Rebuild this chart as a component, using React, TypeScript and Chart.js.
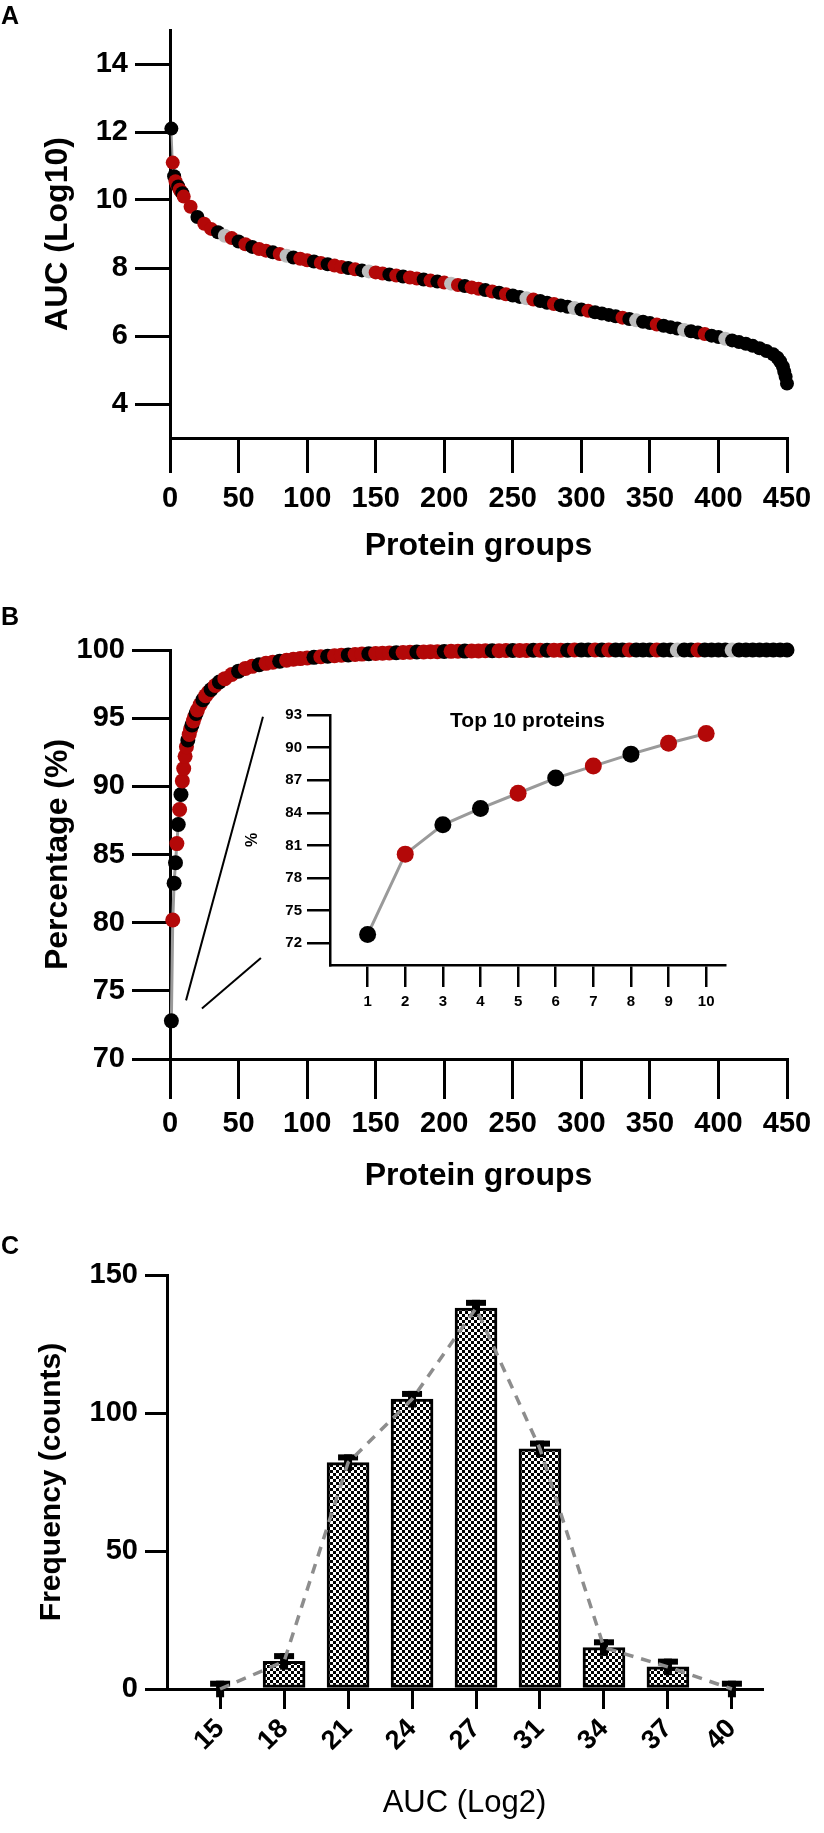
import React, { useEffect, useRef } from "react";
import { Chart, registerables } from "chart.js";

Chart.register(...registerables);

const FONT = "'Liberation Sans', Arial, Helvetica, sans-serif";
const RED = "#b30808";
const BLACK = "#000000";
const GREY = "#bdbdbd";
const LINE_GREY = "#9a9a9a";

// ---------- Panel A: AUC (Log10) by protein group rank ----------
const aucRank = [
  1, 2, 3, 4, 5, 6, 7, 8, 9, 10,
  15, 20, 25, 30, 35, 40, 45, 50, 55, 60,
  65, 70, 75, 80, 85, 90, 95, 100, 105, 110,
  115, 120, 125, 130, 135, 140, 145, 150, 155, 160,
  165, 170, 175, 180, 185, 190, 195, 200, 205, 210,
  215, 220, 225, 230, 235, 240, 245, 250, 255, 260,
  265, 270, 275, 280, 285, 290, 295, 300, 305, 310,
  315, 320, 325, 330, 335, 340, 345, 350, 355, 360,
  365, 370, 375, 380, 385, 390, 395, 400, 405, 410,
  415, 420, 425, 430, 435, 440,
  443, 445, 447, 448, 449, 450,
];
const aucLog10 = [
  12.1, 11.1, 10.7, 10.55, 10.45, 10.4, 10.3, 10.25, 10.2, 10.1,
  9.8, 9.5, 9.3, 9.15, 9.05, 8.95, 8.88, 8.78, 8.7, 8.62,
  8.56, 8.51, 8.46, 8.41, 8.36, 8.31, 8.27, 8.23, 8.19, 8.15,
  8.11, 8.07, 8.03, 8.0, 7.96, 7.93, 7.9, 7.87, 7.84, 7.81,
  7.78, 7.75, 7.72, 7.69, 7.66, 7.63, 7.6, 7.57, 7.54, 7.5,
  7.47, 7.43, 7.39, 7.35, 7.31, 7.27, 7.23, 7.19, 7.15, 7.11,
  7.07, 7.03, 6.98, 6.94, 6.9, 6.86, 6.82, 6.78, 6.74, 6.7,
  6.66, 6.62, 6.58, 6.54, 6.5, 6.46, 6.42, 6.38, 6.34, 6.3,
  6.26, 6.22, 6.18, 6.14, 6.1, 6.06, 6.01, 5.97, 5.92, 5.87,
  5.82, 5.77, 5.71, 5.64, 5.56, 5.46,
  5.36, 5.25, 5.1, 4.95, 4.8, 4.6,
];
const aucColorCodes = [
  "KRKRRKRRKR",
  "RKRRKGRKRK",
  "RRKRGKRRKR",
  "KRRKRKGRRK",
  "RKRRKRKRGR",
  "KRRKRKRKKG",
  "RKKRKKGKRK",
  "KKKRKGKKRK",
  "KKGKKRKKGK",
  "KKKKKK",
  "KKKKKK",
].join("");
const aucXTicks = [0, 50, 100, 150, 200, 250, 300, 350, 400, 450];
const aucYTicks = [4, 6, 8, 10, 12, 14];

// ---------- Panel B: cumulative percentage ----------
const cumRank = [
  1, 2, 3, 4, 5, 6, 7, 8, 9, 10,
  11, 12, 13, 14, 15, 16, 17, 18, 19, 20,
  22, 24, 26, 28, 30, 33, 36, 40,
  45, 50, 55, 60, 65, 70, 75, 80, 85, 90,
  95, 100, 105, 110, 115, 120, 125, 130, 135, 140,
  145, 150, 155, 160, 165, 170, 175, 180, 185, 190,
  195, 200, 205, 210, 215, 220, 225, 230, 235, 240,
  245, 250, 255, 260, 265, 270, 275, 280, 285, 290,
  295, 300, 305, 310, 315, 320, 325, 330, 335, 340,
  345, 350, 355, 360, 365, 370, 375, 380, 385, 390,
  395, 400, 405, 410, 415, 420, 425, 430, 435, 440,
  445, 450,
];
const cumPct = [
  72.8, 80.2, 82.9, 84.4, 85.8, 87.2, 88.3, 89.4, 90.4, 91.3,
  92.2, 92.9, 93.4, 93.8, 94.2, 94.5, 94.8, 95.1, 95.35, 95.6,
  96.0, 96.35, 96.65, 96.9, 97.1, 97.4, 97.65, 97.9,
  98.2, 98.45, 98.65, 98.8, 98.92, 99.02, 99.1, 99.18, 99.25, 99.32,
  99.37, 99.42, 99.46, 99.5, 99.54, 99.58, 99.61, 99.64, 99.67, 99.7,
  99.72, 99.74, 99.76, 99.78, 99.8, 99.82, 99.83, 99.85, 99.86, 99.87,
  99.88, 99.89, 99.9, 99.91, 99.92, 99.93, 99.93, 99.94, 99.95, 99.95,
  99.96, 99.96, 99.97, 99.97, 99.98, 99.98, 99.98, 99.99, 99.99, 99.99,
  100, 100, 100, 100, 100, 100, 100, 100, 100, 100,
  100, 100, 100, 100, 100, 100, 100, 100, 100, 100,
  100, 100, 100, 100, 100, 100, 100, 100, 100, 100,
  100, 100,
];
const cumColorCodes = [
  "KRKKRKRKRR",
  "RRKRRKRRKR",
  "RKRRKRKR",
  "RKRRKRRKRR",
  "RRKRKRRKRR",
  "KRRRKRRKRR",
  "RKRRKRRRKR",
  "RKRRKRKRRK",
  "RKKRKRKKRK",
  "KKRKKGKKRK",
  "KKKGKKKKKK",
  "KK",
].join("");
const cumXTicks = [0, 50, 100, 150, 200, 250, 300, 350, 400, 450];
const cumYTicks = [70, 75, 80, 85, 90, 95, 100];
// zoom guide lines (B data coordinates): [x1, y1, x2, y2]
const zoomGuides = [
  [67.8, 95.1, 11.7, 74.3],
  [23.3, 73.7, 66.3, 77.4],
];

// ---------- Panel B inset: top 10 proteins ----------
const topRank = [1, 2, 3, 4, 5, 6, 7, 8, 9, 10];
const topPct = [72.8, 80.2, 82.9, 84.4, 85.8, 87.2, 88.3, 89.4, 90.4, 91.3];
const topColorCodes = "KRKKRKRKRR";
const topYTicks = [72, 75, 78, 81, 84, 87, 90, 93];

// ---------- Panel C: histogram ----------
const binLabels = ["15", "18", "21", "24", "27", "31", "34", "37", "40"];
const binCounts = [0, 10, 82, 105, 138, 87, 15, 8, 0];
const binErr = [3, 3, 3, 3, 3, 3, 3, 3, 3];
const countTicks = [0, 50, 100, 150];

const codeToColor = (c: string) => (c === "R" ? RED : c === "G" ? GREY : BLACK);

const fixW = (w: number) => (scale: any) => {
  scale.width = w;
};
const fixH = (h: number) => (scale: any) => {
  scale.height = h;
};
const setTicks = (vals: number[]) => (scale: any) => {
  scale.ticks = vals.map((v) => ({ value: v }));
};

const axisCommon = (tickLength: number, width: number) => ({
  grid: {
    display: true,
    drawOnChartArea: false,
    drawTicks: true,
    tickLength,
    tickWidth: width,
    tickColor: BLACK,
    color: BLACK,
    lineWidth: width,
    offset: false,
  },
  border: { display: true, color: BLACK, width },
});

const panelLetter = (letter: string, y: number) => ({
  id: "panelLetter" + letter,
  afterDraw(chart: any) {
    const ctx = chart.ctx;
    ctx.save();
    ctx.font = `bold 25px ${FONT}`;
    ctx.fillStyle = BLACK;
    ctx.textBaseline = "top";
    ctx.textAlign = "left";
    ctx.fillText(letter, 1, y);
    ctx.restore();
  },
});

const tickFont = { family: FONT, size: 29, weight: "bold" };
const titleFont = { family: FONT, size: 32, weight: "bold" };

function makeA(): any {
  const colors = aucColorCodes.split("").map(codeToColor);
  return {
    type: "line",
    data: {
      datasets: [
        {
          data: aucRank.map((x, i) => ({ x, y: aucLog10[i] })),
          borderColor: LINE_GREY,
          borderWidth: 2,
          pointRadius: 7,
          pointBackgroundColor: colors,
          pointBorderColor: colors,
          pointBorderWidth: 0,
          tension: 0,
          clip: false,
        },
      ],
    },
    options: {
      responsive: false,
      animation: false,
      layout: { padding: { left: 0, right: 37, top: 30, bottom: 0 } },
      plugins: { legend: { display: false }, tooltip: { enabled: false } },
      scales: {
        x: {
          type: "linear",
          min: 0,
          max: 450,
          afterBuildTicks: setTicks(aucXTicks),
          afterFit: fixH(152),
          ticks: { autoSkip: false, maxRotation: 0, padding: 9, color: BLACK, font: tickFont },
          ...axisCommon(35, 3),
          title: {
            display: true,
            text: "Protein groups",
            color: BLACK,
            font: titleFont,
            padding: { top: 0, bottom: 25 },
          },
        },
        y: {
          type: "linear",
          min: 3,
          max: 15,
          afterBuildTicks: setTicks(aucYTicks),
          afterFit: fixW(170),
          ticks: { padding: 7, color: BLACK, font: tickFont },
          ...axisCommon(35, 3),
          title: {
            display: true,
            text: "AUC (Log10)",
            color: BLACK,
            font: titleFont,
            padding: { top: 39, bottom: 0 },
          },
        },
      },
    },
    plugins: [panelLetter("A", 5)],
  };
}

function makeB(): any {
  const colors = cumColorCodes.split("").map(codeToColor);
  const guidePlugin = {
    id: "zoomGuides",
    afterDatasetsDraw(chart: any) {
      const { ctx, scales } = chart;
      ctx.save();
      ctx.strokeStyle = BLACK;
      ctx.lineWidth = 2;
      zoomGuides.forEach(([x1, y1, x2, y2]) => {
        ctx.beginPath();
        ctx.moveTo(scales.x.getPixelForValue(x1), scales.y.getPixelForValue(y1));
        ctx.lineTo(scales.x.getPixelForValue(x2), scales.y.getPixelForValue(y2));
        ctx.stroke();
      });
      ctx.restore();
    },
  };
  return {
    type: "line",
    data: {
      datasets: [
        {
          data: cumRank.map((x, i) => ({ x, y: cumPct[i] })),
          borderColor: LINE_GREY,
          borderWidth: 3,
          pointRadius: 7.5,
          pointBackgroundColor: colors,
          pointBorderColor: colors,
          pointBorderWidth: 0,
          tension: 0,
          clip: false,
        },
      ],
    },
    options: {
      responsive: false,
      animation: false,
      layout: { padding: { left: 0, right: 37, top: 60, bottom: 0 } },
      plugins: { legend: { display: false }, tooltip: { enabled: false } },
      scales: {
        x: {
          type: "linear",
          min: 0,
          max: 450,
          afterBuildTicks: setTicks(cumXTicks),
          afterFit: fixH(171),
          ticks: { autoSkip: false, maxRotation: 0, padding: 8, color: BLACK, font: tickFont },
          ...axisCommon(40, 3),
          title: {
            display: true,
            text: "Protein groups",
            color: BLACK,
            font: titleFont,
            padding: { top: 0, bottom: 35 },
          },
        },
        y: {
          type: "linear",
          min: 70,
          max: 100,
          afterBuildTicks: setTicks(cumYTicks),
          afterFit: fixW(170),
          ticks: { padding: 7, color: BLACK, font: tickFont },
          ...axisCommon(38, 3),
          title: {
            display: true,
            text: "Percentage (%)",
            color: BLACK,
            font: titleFont,
            padding: { top: 39, bottom: 0 },
          },
        },
      },
    },
    plugins: [guidePlugin, panelLetter("B", 16)],
  };
}

function makeInset(): any {
  const colors = topColorCodes.split("").map(codeToColor);
  const titlePlugin = {
    id: "insetTitle",
    afterDraw(chart: any) {
      const { ctx, chartArea } = chart;
      ctx.save();
      ctx.font = `bold 21px ${FONT}`;
      ctx.fillStyle = BLACK;
      ctx.textAlign = "center";
      ctx.textBaseline = "middle";
      ctx.fillText("Top 10 proteins", (chartArea.left + chartArea.right) / 2, chartArea.top + 6);
      ctx.restore();
    },
  };
  return {
    type: "line",
    data: {
      datasets: [
        {
          data: topRank.map((x, i) => ({ x, y: topPct[i] })),
          borderColor: LINE_GREY,
          borderWidth: 3,
          pointRadius: 8.5,
          pointBackgroundColor: colors,
          pointBorderColor: colors,
          pointBorderWidth: 0,
          tension: 0,
          clip: false,
        },
      ],
    },
    options: {
      responsive: false,
      animation: false,
      layout: { padding: { left: 0, right: 15, top: 25, bottom: 0 } },
      plugins: { legend: { display: false }, tooltip: { enabled: false } },
      scales: {
        x: {
          type: "linear",
          min: 0,
          max: 10.5,
          afterBuildTicks: setTicks(topRank),
          afterFit: fixH(65),
          ticks: {
            autoSkip: false,
            maxRotation: 0,
            padding: 6,
            color: BLACK,
            font: { family: FONT, size: 15, weight: "bold" },
          },
          ...axisCommon(22, 2.5),
        },
        y: {
          type: "linear",
          min: 70,
          max: 93,
          afterBuildTicks: setTicks(topYTicks),
          afterFit: fixW(90),
          ticks: {
            padding: 5,
            color: BLACK,
            font: { family: FONT, size: 15, weight: "bold" },
          },
          ...axisCommon(23, 2.5),
          title: {
            display: true,
            text: "%",
            color: BLACK,
            font: { family: FONT, size: 16, weight: "bold" },
            padding: { top: 3, bottom: 0 },
          },
        },
      },
    },
    plugins: [titlePlugin],
  };
}

function makeC(): any {
  const pc = document.createElement("canvas");
  pc.width = 6;
  pc.height = 6;
  const p = pc.getContext("2d")!;
  p.fillStyle = "#ffffff";
  p.fillRect(0, 0, 6, 6);
  p.fillStyle = "#000000";
  p.fillRect(0, 0, 3, 3);
  p.fillRect(3, 3, 3, 3);
  const pattern = p.createPattern(pc, "repeat");

  const errPlugin = {
    id: "errCaps",
    afterDatasetDraw(chart: any, args: any) {
      if (args.index !== 0) return;
      const { ctx, scales } = chart;
      ctx.save();
      ctx.fillStyle = BLACK;
      binCounts.forEach((v, i) => {
        const x = scales.x.getPixelForValue(i);
        const top = scales.y.getPixelForValue(v + binErr[i]);
        const bot = scales.y.getPixelForValue(v - binErr[i]);
        ctx.fillRect(x - 10, top, 20, 6);
        ctx.fillRect(x - 4, top, 8, bot - top);
      });
      ctx.restore();
    },
  };

  const pts = binCounts.map((y, i) => ({ x: i, y }));
  return {
    type: "line",
    data: {
      datasets: [
        {
          type: "bar",
          data: pts,
          backgroundColor: pattern,
          borderColor: BLACK,
          borderWidth: 3,
          borderSkipped: false,
          barThickness: 42,
          order: 2,
        },
        {
          type: "line",
          data: pts,
          borderColor: "#8d8d8d",
          borderWidth: 3.5,
          borderDash: [10, 8],
          pointRadius: 0,
          tension: 0,
          order: 1,
          clip: false,
        },
      ],
    },
    options: {
      responsive: false,
      animation: false,
      layout: { padding: { left: 0, right: 62, top: 45, bottom: 0 } },
      plugins: { legend: { display: false }, tooltip: { enabled: false } },
      scales: {
        x: {
          type: "linear",
          offset: false,
          min: -0.83,
          max: 8.47,
          afterBuildTicks: setTicks(binLabels.map((_, i) => i)),
          afterFit: fixH(144),
          ticks: {
            autoSkip: false,
            minRotation: 45,
            maxRotation: 45,
            padding: 4,
            color: BLACK,
            font: { family: FONT, size: 27, weight: "bold" },
            callback: (v: number) => binLabels[Math.round(v)] ?? "",
          },
          ...axisCommon(20, 3),
          title: {
            display: true,
            text: "AUC (Log2)",
            color: BLACK,
            font: { family: FONT, size: 31, weight: "normal" },
            padding: { top: 0, bottom: 11 },
          },
        },
        y: {
          type: "linear",
          min: 0,
          max: 150,
          afterBuildTicks: setTicks(countTicks),
          afterFit: fixW(167),
          ticks: { padding: 7, color: BLACK, font: tickFont },
          ...axisCommon(22, 3),
          title: {
            display: true,
            text: "Frequency (counts)",
            color: BLACK,
            font: { family: FONT, size: 30, weight: "bold" },
            padding: { top: 34, bottom: 0 },
          },
        },
      },
    },
    plugins: [errPlugin, panelLetter("C", 5)],
  };
}

function ChartCanvas(props: {
  make: () => any;
  left: number;
  top: number;
  width: number;
  height: number;
}) {
  const ref = useRef<HTMLCanvasElement | null>(null);
  useEffect(() => {
    const chart = new Chart(ref.current as HTMLCanvasElement, props.make());
    return () => chart.destroy();
  }, []);
  return (
    <canvas
      ref={ref}
      width={props.width}
      height={props.height}
      style={{
        position: "absolute",
        left: props.left,
        top: props.top,
        width: props.width,
        height: props.height,
      }}
    />
  );
}

export default function App() {
  return (
    <div
      style={{
        position: "absolute",
        left: 0,
        top: 0,
        width: 824,
        height: 1833,
        background: "#ffffff",
        overflow: "hidden",
      }}
    >
      <ChartCanvas make={makeA} left={0} top={0} width={824} height={590} />
      <ChartCanvas make={makeB} left={0} top={590} width={824} height={640} />
      <ChartCanvas make={makeInset} left={240} top={690} width={500} height={340} />
      <ChartCanvas make={makeC} left={0} top={1230} width={824} height={603} />
    </div>
  );
}
